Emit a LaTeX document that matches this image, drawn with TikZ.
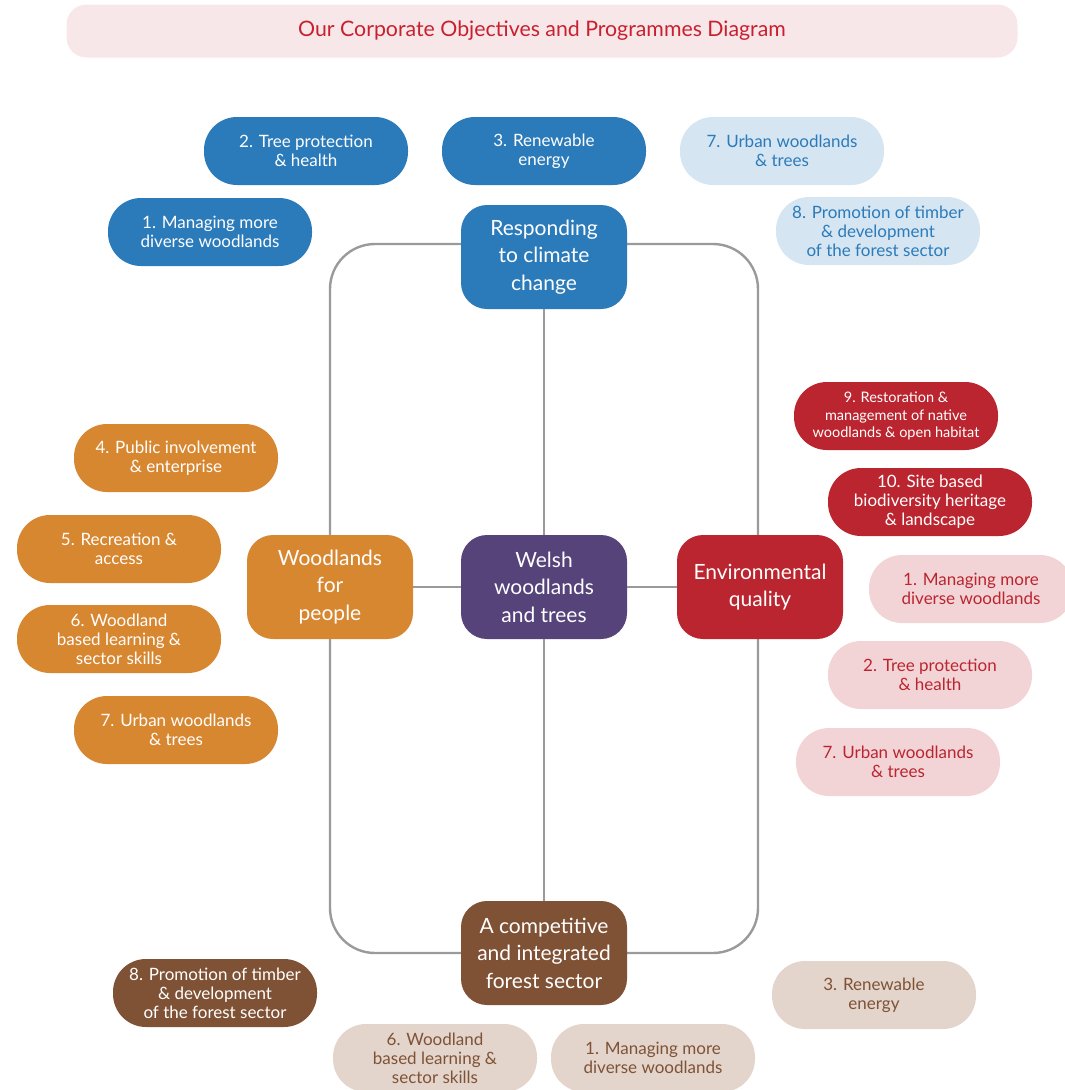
\documentclass[tikz,border=0pt]{standalone}
\usepackage{fontspec}
\setmainfont{Lato}
\definecolor{blueD}{HTML}{2B7BBA}
\definecolor{blueL}{HTML}{D5E5F2}
\definecolor{redD}{HTML}{BA252F}
\definecolor{redL}{HTML}{F2D4D7}
\definecolor{orng}{HTML}{D88731}
\definecolor{purp}{HTML}{55437A}
\definecolor{brwn}{HTML}{7F5235}
\definecolor{brwnL}{HTML}{E3D5CC}
\definecolor{ttlbg}{HTML}{F8E7E9}
\definecolor{ttltx}{HTML}{C8202F}
\definecolor{frame}{HTML}{9A9A9A}
\begin{document}
\begin{tikzpicture}[x=1pt,y=-1pt,
  pill/.style={rounded corners=33pt,minimum width=204pt,minimum height=68pt,inner sep=2pt,align=center,font=\fontsize{17}{19}\selectfont},
  hub/.style={rounded corners=26pt,minimum width=166pt,minimum height=104pt,align=center,text=white,font=\fontsize{21}{27.5}\selectfont},
  link/.style={draw=frame,line width=2.4pt}]
\useasboundingbox(0,0)rectangle(1065,1090);
% title bar
\node[fill=ttlbg,rounded corners=20pt,minimum width=951pt,minimum height=53pt,text=ttltx,font=\fontsize{21.3}{24}\selectfont](title)at(542,31){Our Corporate Objectives and Programmes Diagram};
% frame
\draw[link,rounded corners=45pt](330,244)rectangle(758,953);
% objectives
\node[hub,fill=blueD](climate)at(544,257){Responding\\to climate\\change};
\node[hub,fill=purp](welsh)at(544,587){Welsh\\woodlands\\and trees};
\node[hub,fill=orng](people)at(330,587){Woodlands\\for\\people};
\node[hub,fill=redD](envq)at(760,587){Environmental\\quality};
\node[hub,fill=brwn](forest)at(544,953){A competitive\\and integrated\\forest sector};
\draw[link](climate)--(welsh)--(forest);
\draw[link](people)--(welsh)--(envq);
% climate programmes
\node[pill,fill=blueD,text=white](c2)at(306,151){2. Tree protection\\\& health};
\node[pill,fill=blueD,text=white](c3)at(544,151){3. Renewable\\energy};
\node[pill,fill=blueD,text=white](c1)at(210,232){1. Managing more\\diverse woodlands};
\node[pill,fill=blueL,text=blueD](c7)at(782,151){7. Urban woodlands\\\& trees};
\node[pill,fill=blueL,text=blueD](c8)at(878,231){8. Promotion of timber\\\& development\\of the forest sector};
% environment programmes
\node[pill,fill=redD,text=white,font=\fontsize{14.5}{17.5}\selectfont](e9)at(896,416){9. Restoration \&\\management of native\\woodlands \& open habitat};
\node[pill,fill=redD,text=white](e10)at(930,502){10. Site based\\biodiversity heritage\\\& landscape};
\node[pill,fill=redL,text=redD](e1)at(971,589){1. Managing more\\diverse woodlands};
\node[pill,fill=redL,text=redD](e2)at(930,675){2. Tree protection\\\& health};
\node[pill,fill=redL,text=redD](e7)at(898,762){7. Urban woodlands\\\& trees};
% people programmes
\node[pill,fill=orng,text=white](p4)at(176,458){4. Public involvement\\\& enterprise};
\node[pill,fill=orng,text=white](p5)at(119,549){5. Recreation \&\\access};
\node[pill,fill=orng,text=white](p6)at(119,639){6. Woodland\\based learning \&\\sector skills};
\node[pill,fill=orng,text=white](p7)at(176,730){7. Urban woodlands\\\& trees};
% forest sector programmes
\node[pill,fill=brwn,text=white](f8)at(215,993){8. Promotion of timber\\\& development\\of the forest sector};
\node[pill,fill=brwnL,text=brwn](f6)at(435,1058){6. Woodland\\based learning \&\\sector skills};
\node[pill,fill=brwnL,text=brwn](f1)at(653,1058){1. Managing more\\diverse woodlands};
\node[pill,fill=brwnL,text=brwn](f3)at(874,995){3. Renewable\\energy};
\end{tikzpicture}
\end{document}
